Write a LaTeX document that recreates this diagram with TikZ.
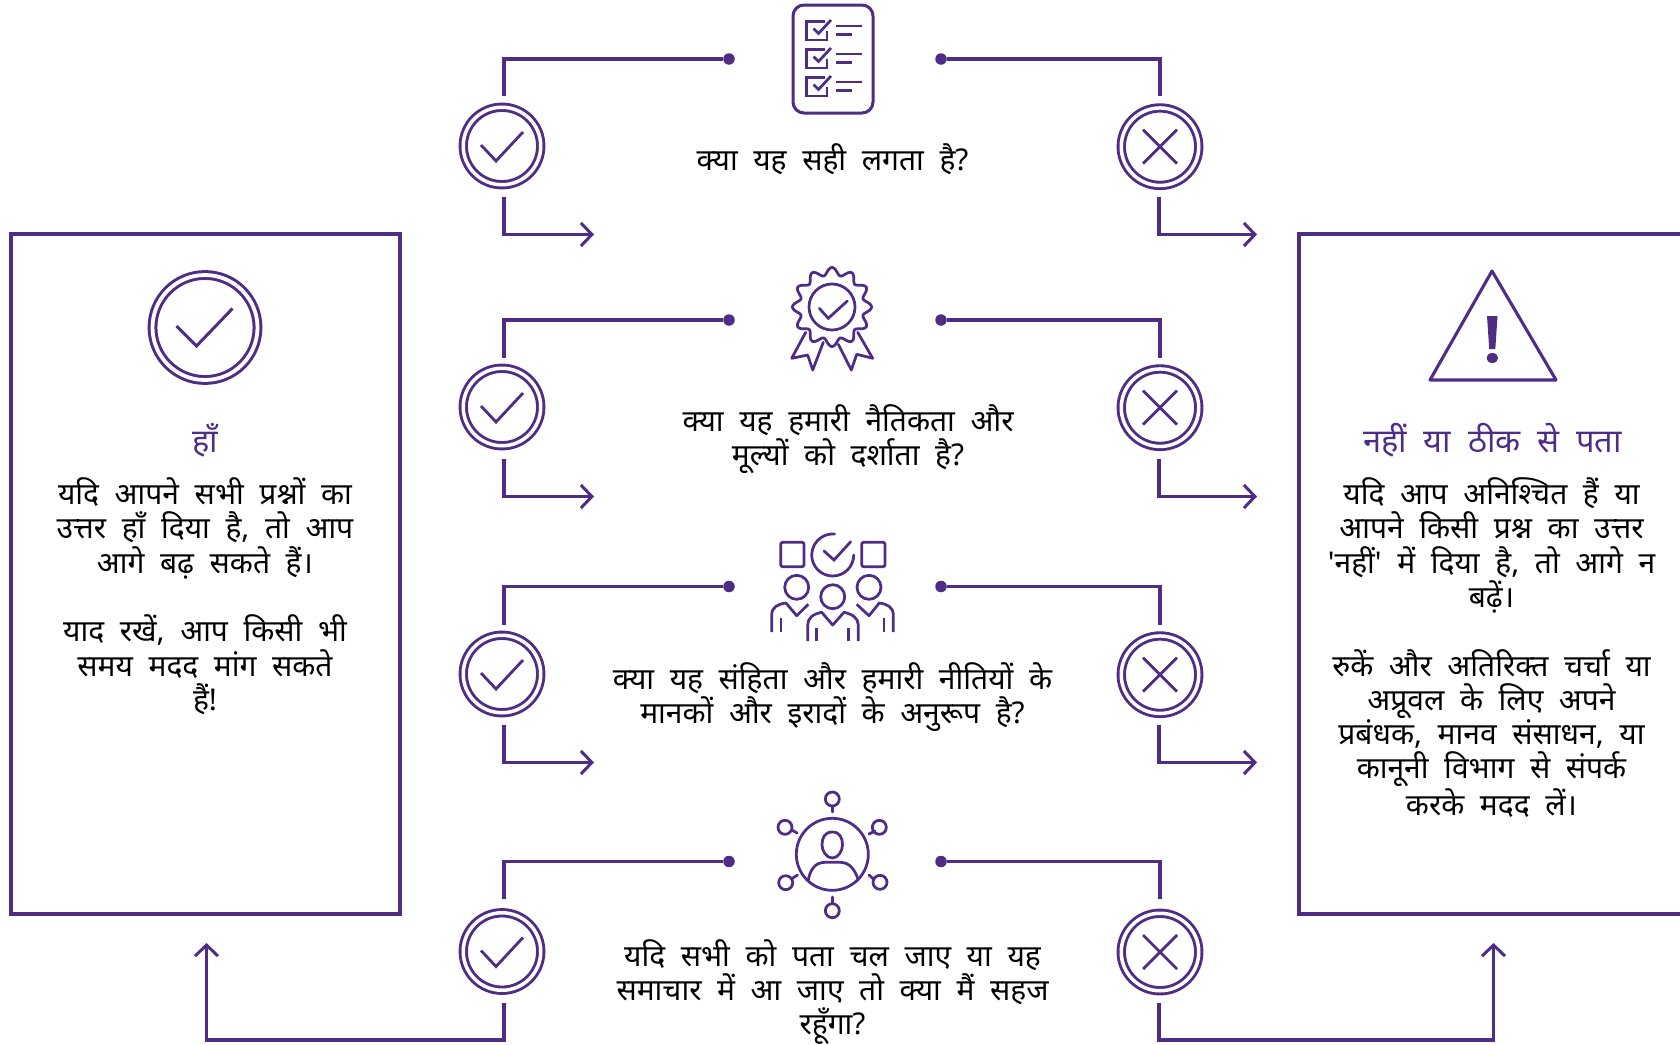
\documentclass[tikz,border=0pt]{standalone}
\usepackage{fontspec}
\usetikzlibrary{arrows.meta,calc}
\newfontfamily\hindi[Script=Devanagari,WordSpace=2.0]{Noto Sans}
\definecolor{pur}{HTML}{4F2C86}
\tikzset{
  x=1pt,y=-1pt,
  conn/.style={draw=pur,line width=3.05pt,line join=miter},
  arr/.style={conn,-{Straight Barb[length=11pt,width=23pt,line width=3pt]}},
  dotn/.style={circle,fill=pur,inner sep=0pt,minimum size=11.5pt},
  ring/.style={circle,draw=pur,fill=white,double=white,line width=2.9pt,double distance=3.5pt,inner sep=0pt,minimum size=77.5pt},
  bigring/.style={circle,draw=pur,double=white,line width=3pt,double distance=3.8pt,inner sep=0pt,minimum size=105pt},
  tick/.style={draw=pur,line width=2.8pt,line join=miter},
  ico/.style={draw=pur,line width=2.75pt,line cap=round,line join=round},
  ttx/.style={font=\hindi\fontsize{30}{34.3}\selectfont,align=center,text=black,inner sep=0pt,anchor=north},
  htx/.style={ttx,font=\hindi\fontsize{32.6}{34.3}\selectfont,text=pur},
  boxn/.style={draw=pur,line width=3.05pt}
}
\begin{document}
\begin{tikzpicture}
\useasboundingbox (0,0) rectangle (1680,1044);
% boxes
\draw[boxn] (11,234) rectangle (400,914);
\draw[boxn] (1720,234) -- (1299,234) -- (1299,914) -- (1720,914);
\node[bigring] (bigyes) at (205,327.5) {};
\draw[tick,line width=3pt] ($(bigyes)+(-28.5,-1.5)$) -- ($(bigyes)+(-8.5,18.5)$) -- ($(bigyes)+(27.5,-19)$);
\draw[ico,line width=3.1pt] (1492,271) -- (1556,380) -- (1430,380) -- cycle;
\fill[pur] (1487,316) -- (1497.5,316) -- (1495.3,349) -- (1489.2,349) -- cycle;
\fill[pur] (1492.3,358) ellipse [x radius=5.8,y radius=5];
% rows
\foreach \r/\hy/\ty/\cy/\by in {1/59/96/146/197,2/320/358/407/459,3/586.5/625/674/725}{
  \pgfmathsetmacro{\ay}{\by+37.5}
  \node[ring] (y\r) at (502,\cy) {};
  \node[ring] (n\r) at (1160,\cy+0.7) {};
  \node[dotn] (dl\r) at (729,\hy) {};
  \node[dotn] (dr\r) at (941,\hy) {};
  \coordinate (tl\r) at (504,\ty);
  \coordinate (tr\r) at (1160,\ty);
  \coordinate (bl\r) at (504,\by);
  \coordinate (br\r) at (1159,\by);
  \coordinate (al\r) at (594,\ay);
  \coordinate (ar\r) at (1257,\ay);
  \draw[conn] (dl\r) -| (tl\r);
  \draw[conn] (dr\r) -| (tr\r);
  \draw[arr] (bl\r) |- (al\r);
  \draw[arr] (br\r) |- (ar\r);
}
\node[ring] (y4) at (502,951.5) {};
\node[ring] (n4) at (1160,952) {};
\node[dotn] (dl4) at (729,861.5) {};
\node[dotn] (dr4) at (941,861.5) {};
\coordinate (tl4) at (504,899);
\coordinate (tr4) at (1160,899);
\coordinate (bl4) at (504,1003);
\coordinate (br4) at (1159,1003);
\coordinate (al4) at (206.5,943);
\coordinate (ar4) at (1493.5,943);
\draw[conn] (dl4) -| (tl4);
\draw[conn] (dr4) -| (tr4);
\draw[arr] (bl4) -- ++(0,37) -| (al4);
\draw[arr] (br4) -- ++(0,37) -| (ar4);
% marks
\foreach \r in {1,2,3,4}{
  \draw[tick] ($(y\r)+(-21,-1)$) -- ($(y\r)+(-6,15)$) -- ($(y\r)+(21,-14)$);
  \draw[tick] ($(n\r)+(-17,-17)$) -- ($(n\r)+(17,17)$);
  \draw[tick] ($(n\r)+(-17,17)$) -- ($(n\r)+(17,-17)$);
}
% icon 1: checklist
\draw[ico,line width=3pt,rounded corners=11pt] (793,5) rectangle (873,113);
\foreach \d in {0,28,56}{
  \begin{scope}[yshift=-\d pt]
  \draw[ico,line cap=butt,line join=miter] (825,21.5) -- (806.5,21.5) -- (806.5,40) -- (827,40) -- (827,31);
  \draw[ico,line cap=butt,line join=miter] (813.5,28.5) -- (818.5,33.5) -- (831,20);
  \draw[ico,line cap=butt] (836,26) -- (861.5,26);
  \draw[ico,line cap=butt] (836,34.5) -- (852,34.5);
  \end{scope}
}
% icon 2: seal
\draw[ico] plot[domain=0:360,samples=145,smooth] ({832+(35.8+3.8*cos(12*\x))*sin(\x)},{307-(35.8+3.8*cos(12*\x))*cos(\x)}) -- cycle;
\draw[ico] (832,307) circle [radius=23];
\draw[ico,line join=miter] (819.3,308.3) -- (828.3,318.3) -- (847.3,301);
\draw[ico] (805.7,332.3) -- (791.7,358.3) -- (807.7,355) -- (812.7,370) -- (823.3,342.3);
\draw[ico] (857.7,332.3) -- (872.7,358.3) -- (856.7,354.3) -- (851.3,370) -- (838.3,344.3);
% icon 3: team
\draw[ico,rounded corners=2pt] (780.7,542.3) rectangle (804,566.7);
\draw[ico,rounded corners=2pt] (861.7,542.3) rectangle (885,566.7);
\draw[ico] (853.7,555) arc [start angle=0,end angle=275,radius=21];
\draw[ico,line join=miter] (824,551) -- (834,560) -- (850.7,541.7);
\draw[ico] (796.7,587.3) circle [radius=12];
\draw[ico] (832.7,596.7) circle [radius=12];
\draw[ico] (869,587.3) circle [radius=12];
\draw[ico,line cap=butt] (771.7,632) -- (771.7,615) .. controls (771.7,607) and (778,604) .. (786,603) -- (796.7,615.7) -- (808.3,604.3);
\draw[ico,line cap=butt] (781,618) -- (781,632);
\draw[ico,line cap=butt] (856.7,604.3) -- (869,615.7) -- (879.3,603) .. controls (887,604) and (893.3,607) .. (893.3,615) -- (893.3,632);
\draw[ico,line cap=butt] (884,618) -- (884,632);
\draw[ico,line cap=butt] (807.7,641) -- (807.7,625) .. controls (807.7,618) and (813,614) .. (821.7,612.3) -- (832.7,625) -- (844,612.3) .. controls (852,614) and (858.3,618) .. (858.3,625) -- (858.3,641);
\draw[ico,line cap=butt] (816.7,628) -- (816.7,641);
\draw[ico,line cap=butt] (848.3,628) -- (848.3,641);
% icon 4: network
\draw[ico] (832.3,854.3) circle [radius=36];
\draw[ico] (832.3,832) .. controls (840,832) and (842.5,838) .. (842.5,845) .. controls (842.5,851) and (838,858) .. (832.3,858) .. controls (826.5,858) and (822,851) .. (822,845) .. controls (822,838) and (824.5,832) .. (832.3,832) -- cycle;
\draw[ico] (808.3,880) .. controls (810,870) and (815,862.3) .. (825,862.3) -- (840,862.3) .. controls (850,862.3) and (855,870) .. (858.3,880);
\draw[ico] (832.3,799) circle [radius=7];
\draw[ico] (832.3,806) -- (832.3,812);
\draw[ico] (832.3,910.7) circle [radius=7];
\draw[ico] (832.3,897) -- (832.3,903.5);
\draw[ico] (785,827.3) circle [radius=7];
\draw[ico] (792,830) -- (797,833);
\draw[ico] (879.3,827.3) circle [radius=7];
\draw[ico] (875,831) -- (869,834);
\draw[ico] (785.7,882.7) circle [radius=7];
\draw[ico] (792,878.5) -- (797.5,875);
\draw[ico] (880,882.3) circle [radius=7];
\draw[ico] (873.5,879) -- (869,875);
% text
\node[ttx] (q1) at (832.5,143) {क्या यह सही लगता है?};
\node[ttx] (q2) at (848,404) {क्या यह हमारी नैतिकता और\\मूल्यों को दर्शाता है?};
\node[ttx] (q3) at (832.5,662) {क्या यह संहिता और हमारी नीतियों के\\मानकों और इरादों के अनुरूप है?};
\node[ttx] (q4) at (832.5,939) {यदि सभी को पता चल जाए या यह\\समाचार में आ जाए तो क्या मैं सहज\\रहूँगा?};
\node[htx] (ht1) at (205,423) {हाँ};
\node[htx] (ht2) at (1492.5,423) {नहीं या ठीक से पता};
\node[ttx] (b1) at (205,477.5) {यदि आपने सभी प्रश्नों का\\उत्तर हाँ दिया है, तो आप\\आगे बढ़ सकते हैं।\\~\\याद रखें, आप किसी भी\\समय मदद मांग सकते\\हैं!};
\node[ttx] (b2) at (1491.5,477.5) {यदि आप अनिश्चित हैं या\\आपने किसी प्रश्न का उत्तर\\'नहीं' में दिया है, तो आगे न\\बढ़ें।\\~\\रुकें और अतिरिक्त चर्चा या\\अप्रूवल के लिए अपने\\प्रबंधक, मानव संसाधन, या\\कानूनी विभाग से संपर्क\\करके मदद लें।};
\end{tikzpicture}
\end{document}
